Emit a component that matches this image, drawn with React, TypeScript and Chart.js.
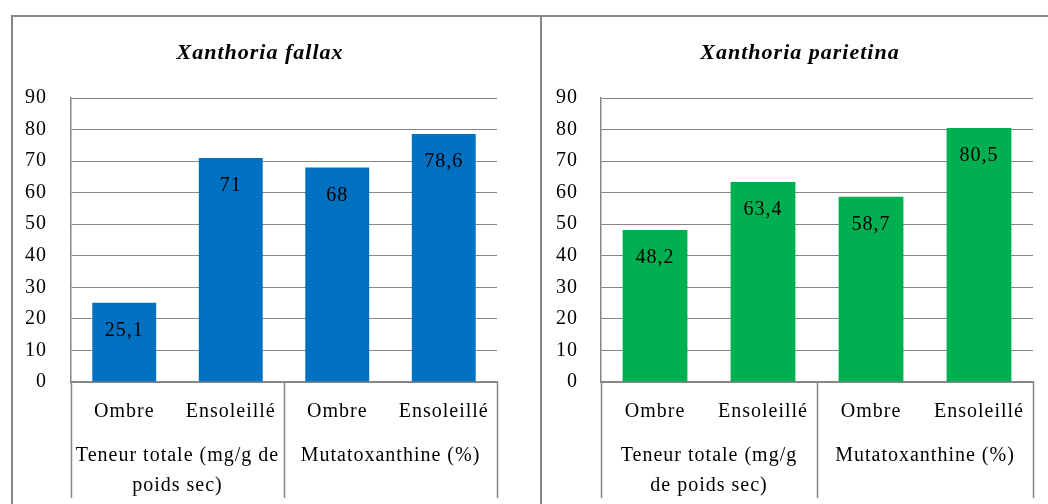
import React, { useEffect, useRef } from "react";
import { Chart, registerables } from "chart.js";

Chart.register(...registerables);

// ---------- data ----------
const categories = ["Ombre", "Ensoleillé", "Ombre", "Ensoleillé"];
const groupSizes = [2, 2];
const fallaxValues = [25.1, 71, 68, 78.6];
const parietinaValues = [48.2, 63.4, 58.7, 80.5];
const fallaxGroups = [["Teneur totale (mg/g de", "poids sec)"], ["Mutatoxanthine (%)"]];
const parietinaGroups = [["Teneur totale (mg/g", "de poids sec)"], ["Mutatoxanthine (%)"]];
const yMin = 0;
const yMax = 90;
const yStep = 10;

const GRID = "#868686";
const FONT = "'Liberation Serif', 'Times New Roman', serif";

const decorPlugin = {
  id: "panelDecor",
  beforeUpdate(chart: any) {
    try { chart.ctx.letterSpacing = "1px"; } catch (e) {}
  },
  beforeDraw(chart: any) {
    try { chart.ctx.letterSpacing = "1px"; } catch (e) {}
  },
  afterDatasetsDraw(chart: any) {
    const ctx = chart.ctx;
    const meta = chart.getDatasetMeta(0);
    const values = chart.data.datasets[0].data as number[];
    ctx.save();
    ctx.fillStyle = "#000";
    ctx.font = `20px ${FONT}`;
    ctx.textAlign = "center";
    ctx.textBaseline = "middle";
    meta.data.forEach((el: any, i: number) => {
      ctx.fillText(String(values[i]).replace(".", ","), el.x, el.y + 28);
    });
    ctx.restore();
  },
  afterDraw(chart: any, _args: any, opts: any) {
    const ctx = chart.ctx;
    const { left, right, bottom } = chart.chartArea;
    const n = categories.length;
    const catW = (right - left) / n;
    ctx.save();
    // title
    ctx.fillStyle = "#000";
    ctx.font = `italic bold 22px ${FONT}`;
    ctx.textAlign = "center";
    ctx.textBaseline = "middle";
    ctx.fillText(opts.title, opts.titleX, 36);
    // separators
    ctx.strokeStyle = GRID;
    ctx.lineWidth = 1.5;
    let idx = 0;
    const bounds = [0];
    groupSizes.forEach((s) => { idx += s; bounds.push(idx); });
    bounds.forEach((b) => {
      const x = Math.round(left + b * catW) + 0.5;
      ctx.beginPath();
      ctx.moveTo(x, bottom);
      ctx.lineTo(x, bottom + 116);
      ctx.stroke();
    });
    // group labels
    ctx.font = `20px ${FONT}`;
    const groups = opts.groups as string[][];
    groups.forEach((lines, g) => {
      const cx = left + ((bounds[g] + bounds[g + 1]) / 2) * catW;
      lines.forEach((line, k) => {
        ctx.fillText(line, cx, bottom + 74 + k * 30);
      });
    });
    ctx.restore();
  },
};

type PanelProps = {
  title: string;
  titleX: number;
  values: number[];
  groups: string[][];
  color: string;
  width: number;
  height: number;
  axisWidth: number;
  tickPad: number;
  padRight: number;
};

function Panel(p: PanelProps) {
  const ref = useRef<HTMLCanvasElement>(null);
  useEffect(() => {
    if (!ref.current) return;
    const chart = new Chart(ref.current, {
      type: "bar",
      data: {
        labels: categories,
        datasets: [
          {
            data: p.values,
            backgroundColor: p.color,
            borderWidth: 0,
            categoryPercentage: 1,
            barPercentage: 0.6,
          },
        ],
      },
      plugins: [decorPlugin as any],
      options: {
        responsive: false,
        animation: false,
        events: [],
        layout: { padding: { top: 81, left: 0, right: p.padRight, bottom: 0 } },
        plugins: {
          legend: { display: false },
          tooltip: { enabled: false },
          title: { display: false },
          panelDecor: { title: p.title, titleX: p.titleX, groups: p.groups },
        } as any,
        scales: {
          x: {
            grid: { display: false, drawTicks: false },
            border: { display: true, color: GRID, width: 2 },
            ticks: {
              color: "#000",
              font: { family: FONT, size: 20 },
              padding: 18,
              maxRotation: 0,
              autoSkip: false,
            },
            afterFit: (scale: any) => {
              scale.height = 122;
            },
          },
          y: {
            min: yMin,
            max: yMax,
            grid: { color: GRID, lineWidth: 1, drawTicks: false },
            border: { display: true, color: GRID, width: 1.5 },
            ticks: {
              stepSize: yStep,
              color: "#000",
              font: { family: FONT, size: 20 },
              padding: p.tickPad,
            },
            afterFit: (scale: any) => {
              scale.width = p.axisWidth;
            },
          },
        },
      },
    });
    return () => chart.destroy();
  }, []);
  return (
    <canvas
      ref={ref}
      width={p.width}
      height={p.height}
      style={{ width: p.width, height: p.height, display: "block" }}
    />
  );
}

export default function App() {
  return (
    <div
      style={{
        position: "absolute",
        left: 0,
        top: 0,
        width: 1048,
        height: 504,
        background: "#fff",
        overflow: "hidden",
      }}
    >
      <div
        style={{
          position: "absolute",
          left: 11,
          top: 15,
          width: 1100,
          height: 600,
          borderTop: `2px solid ${GRID}`,
          borderLeft: `2px solid ${GRID}`,
        }}
      />
      <div style={{ position: "absolute", left: 540, top: 15, width: 2, height: 600, background: GRID }} />
      <div style={{ position: "absolute", left: 13, top: 17 }}>
        <Panel
          title="Xanthoria fallax"
          titleX={247}
          values={fallaxValues}
          groups={fallaxGroups}
          color="#0070C0"
          width={527}
          height={487}
          axisWidth={58}
          tickPad={24}
          padRight={43}
        />
      </div>
      <div style={{ position: "absolute", left: 542, top: 17 }}>
        <Panel
          title="Xanthoria parietina"
          titleX={258}
          values={parietinaValues}
          groups={parietinaGroups}
          color="#00B050"
          width={506}
          height={487}
          axisWidth={59}
          tickPad={23}
          padRight={15}
        />
      </div>
    </div>
  );
}
